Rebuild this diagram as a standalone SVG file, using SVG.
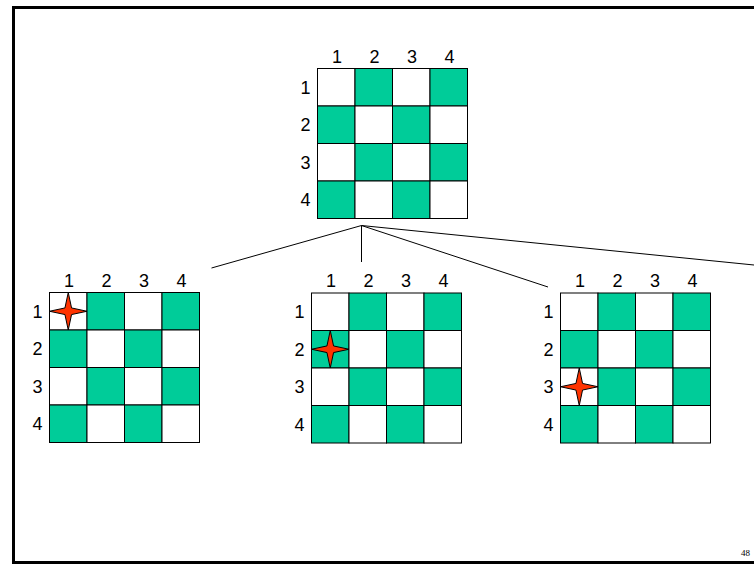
<svg xmlns="http://www.w3.org/2000/svg" xmlns:xlink="http://www.w3.org/1999/xlink" width="754" height="566" viewBox="0 0 754 566">
  <style>
    .lbl { font-family: "Liberation Sans", Arial, sans-serif; font-size: 18px; fill: #000; text-anchor: middle; }
    .g { fill: #00CC99; stroke: #000; stroke-width: 1; }
    .w { fill: #FFFFFF; stroke: #000; stroke-width: 1; }
    .star { fill: #FF3300; stroke: #000; stroke-width: 1; }
    .conn { stroke: #000; stroke-width: 1; fill: none; }
    .page { font-family: "Liberation Serif", "Times New Roman", serif; font-size: 9px; fill: #000; text-anchor: end; }
  </style>
  <defs>
    <g id="boardDef">
      <rect class="w" x="0" y="0" width="37.5" height="37.5"/>
      <rect class="g" x="37.5" y="0" width="37.5" height="37.5"/>
      <rect class="w" x="75" y="0" width="37.5" height="37.5"/>
      <rect class="g" x="112.5" y="0" width="37.5" height="37.5"/>
      <rect class="g" x="0" y="37.5" width="37.5" height="37.5"/>
      <rect class="w" x="37.5" y="37.5" width="37.5" height="37.5"/>
      <rect class="g" x="75" y="37.5" width="37.5" height="37.5"/>
      <rect class="w" x="112.5" y="37.5" width="37.5" height="37.5"/>
      <rect class="w" x="0" y="75" width="37.5" height="37.5"/>
      <rect class="g" x="37.5" y="75" width="37.5" height="37.5"/>
      <rect class="w" x="75" y="75" width="37.5" height="37.5"/>
      <rect class="g" x="112.5" y="75" width="37.5" height="37.5"/>
      <rect class="g" x="0" y="112.5" width="37.5" height="37.5"/>
      <rect class="w" x="37.5" y="112.5" width="37.5" height="37.5"/>
      <rect class="g" x="75" y="112.5" width="37.5" height="37.5"/>
      <rect class="w" x="112.5" y="112.5" width="37.5" height="37.5"/>
      <text class="lbl" x="19.5" y="-6">1</text>
      <text class="lbl" x="57" y="-6">2</text>
      <text class="lbl" x="94.5" y="-6">3</text>
      <text class="lbl" x="132" y="-6">4</text>
      <text class="lbl" x="-12" y="25.2">1</text>
      <text class="lbl" x="-12" y="62.7">2</text>
      <text class="lbl" x="-12" y="100.2">3</text>
      <text class="lbl" x="-12" y="137.7">4</text>
    </g>
    <polygon id="starDef" class="star" points="0,-18.75 3.3,-3.3 18.75,0 3.3,3.3 0,18.75 -3.3,3.3 -18.75,0 -3.3,-3.3"/>
  </defs>

  <rect x="13.5" y="7.5" width="800" height="555" fill="none" stroke="#000" stroke-width="3"/>

  <g id="connectors">
    <line class="conn" x1="361.5" y1="225.5" x2="211.5" y2="268"/>
    <line class="conn" x1="361.5" y1="225.5" x2="361.5" y2="262"/>
    <line class="conn" x1="361.5" y1="225.5" x2="548" y2="287"/>
    <line class="conn" x1="361.5" y1="225.5" x2="754" y2="265"/>
  </g>

  <g id="board-root" transform="translate(317.5,68.5)">
    <use xlink:href="#boardDef"/>
  </g>

  <g id="board-q1r1" transform="translate(49.5,292.5)">
    <use xlink:href="#boardDef"/>
    <use xlink:href="#starDef" x="18.75" y="18.75"/>
  </g>

  <g id="board-q1r2" transform="translate(311.5,293)">
    <use xlink:href="#boardDef"/>
    <use xlink:href="#starDef" x="18.75" y="56.25"/>
  </g>

  <g id="board-q1r3" transform="translate(560.5,293)">
    <use xlink:href="#boardDef"/>
    <use xlink:href="#starDef" x="18.75" y="93.75"/>
  </g>

  <text class="page" x="750" y="556">48</text>
</svg>
